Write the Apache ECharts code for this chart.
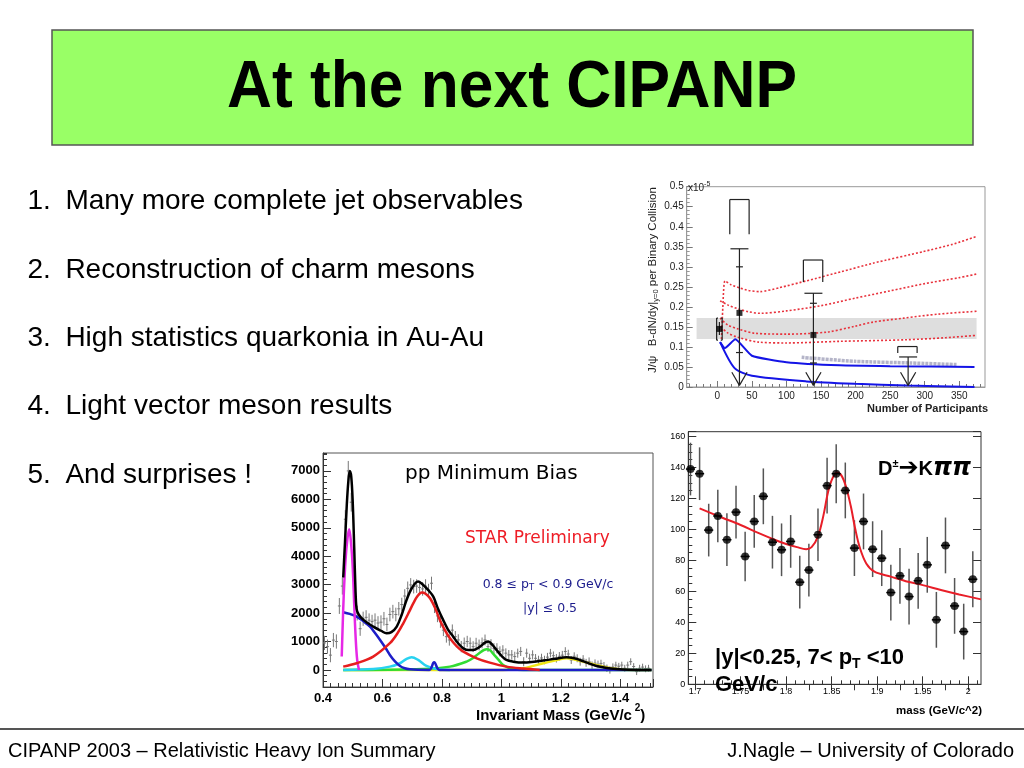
<!DOCTYPE html>
<html><head><meta charset="utf-8">
<script src="https://cdn.jsdelivr.net/npm/echarts@6/dist/echarts.min.js"></script>
<style>html,body{margin:0;padding:0;background:#fff}#c{width:1024px;height:768px}</style>
</head><body><div id="c"></div>
<script>
// ---------------- slide text ----------------
const slideTitle = 'At the next CIPANP';
const bulletNums = ['1.', '2.', '3.', '4.', '5.'];
const bulletTexts = ['Many more complete jet observables', 'Reconstruction of charm mesons',
  'High statistics quarkonia in Au-Au', 'Light vector meson results', 'And surprises !'];
const footerLeft = 'CIPANP 2003 – Relativistic Heavy Ion Summary';
const footerRight = 'J.Nagle – University of Colorado';

// ---------------- chart 1 : J/psi vs Npart ----------------
const jpsiXTicks = [0, 50, 100, 150, 200, 250, 300, 350];
const jpsiXMinor = [-40, -30, -20, -10, 10, 20, 30, 40, 60, 70, 80, 90, 110, 120, 130, 140, 160, 170, 180, 190,
  210, 220, 230, 240, 260, 270, 280, 290, 310, 320, 330, 340, 360, 370, 380];
const jpsiBand = [[-30, 0.12, 375, 0.172]];
const jpsiRedA = [[6, 0.12], [8, 0.2], [11, 0.265], [20, 0.255], [33, 0.247], [45, 0.241], [62, 0.238], [90, 0.248], [129, 0.265], [180, 0.288], [225, 0.309], [298, 0.338], [340, 0.356], [375, 0.376]];
const jpsiRedB = [[4, 0.215], [15, 0.205], [30, 0.195], [45, 0.188], [62, 0.184], [100, 0.19], [150, 0.203], [200, 0.222], [250, 0.24], [300, 0.258], [350, 0.273], [375, 0.282]];
const jpsiRedC = [[4, 0.172], [15, 0.155], [30, 0.145], [55, 0.134], [100, 0.132], [158, 0.137], [200, 0.152], [225, 0.162], [270, 0.172], [320, 0.182], [375, 0.189]];
const jpsiRedD = [[5, 0.15], [15, 0.135], [30, 0.124], [60, 0.112], [100, 0.11], [177, 0.114], [274, 0.118], [330, 0.123], [375, 0.129]];
const jpsiBlueA = [[4, 0.112], [11, 0.097], [26, 0.119], [50, 0.078], [100, 0.062], [177, 0.054], [250, 0.052], [372, 0.05]];
const jpsiBlueB = [[4, 0.112], [25, 0.047], [50, 0.028], [129, 0.014], [200, 0.008], [274, 0.004], [372, 0.0]];
const jpsiGrayDash = [[122, 0.074], [200, 0.064], [280, 0.06], [346, 0.056]];
const jpsiPoints = [[3, 0.145], [32, 0.185], [139, 0.130]];
const jpsiVBars = [[3, 0.13, 0.162], [32, 0.004, 0.345], [139, 0.004, 0.234], [276, 0.004, 0.075]];
const jpsiCaps = [[32, 0.345, 13], [32, 0.30, 5], [32, 0.086, 5], [139, 0.234, 13], [139, 0.209, 5], [139, 0.06, 5], [276, 0.075, 13]];
const jpsiArrows = [[32, 0.004, 0.037, 11], [139, 0.004, 0.037, 11], [276, 0.004, 0.037, 11]];
const jpsiBrackets = [[32, 0.468, 0.381, 14], [138.5, 0.317, 0.262, 14], [275, 0.101, 0.085, 14]];
const jpsiSideBrackets = [[3, 0.117, 0.172, 4, 2]];

// ---------------- chart 2 : pp minimum bias invariant mass ----------------
const ppYTicks = [0, 1000, 2000, 3000, 4000, 5000, 6000, 7000];
const ppPoints = [[0.405,950,250],[0.415,820,250],[0.425,520,250],[0.435,1050,250],[0.445,1000,250],[0.455,2250,280],[0.465,2950,300],[0.475,5300,320],[0.485,7000,350],[0.495,5900,330],[0.505,3400,300],[0.515,2000,260],[0.525,1450,250],[0.535,1800,250],[0.545,1850,250],[0.555,1750,240],[0.565,1700,240],[0.575,1750,240],[0.585,1650,240],[0.595,1680,240],[0.605,1800,240],[0.615,1600,240],[0.625,1950,240],[0.635,2050,240],[0.645,1950,240],[0.655,2150,240],[0.665,2300,240],[0.675,2600,240],[0.685,2870,240],[0.695,2990,240],[0.705,2930,240],[0.715,2950,240],[0.725,2900,240],[0.735,2850,240],[0.745,2950,240],[0.755,2800,230],[0.765,3050,230],[0.775,2230,230],[0.785,1900,220],[0.795,1700,220],[0.805,1400,210],[0.815,1170,210],[0.825,1055,200],[0.835,1400,200],[0.845,1170,200],[0.855,1055,200],[0.865,820,200],[0.875,940,200],[0.885,1000,200],[0.895,940,200],[0.905,820,190],[0.915,940,190],[0.925,880,190],[0.935,950,190],[0.945,1055,190],[0.955,820,190],[0.965,900,180],[0.975,760,180],[0.985,760,180],[0.995,650,180],[1.005,700,170],[1.015,590,170],[1.025,530,170],[1.035,530,170],[1.045,470,170],[1.055,590,160],[1.065,650,160],[1.075,290,160],[1.085,590,160],[1.095,410,160],[1.105,530,160],[1.115,410,150],[1.125,350,150],[1.135,420,150],[1.145,350,150],[1.155,450,150],[1.165,590,150],[1.175,500,150],[1.185,410,150],[1.195,480,150],[1.205,520,150],[1.215,650,150],[1.225,560,150],[1.235,350,140],[1.245,480,140],[1.255,410,140],[1.265,290,140],[1.275,380,140],[1.285,250,140],[1.295,300,140],[1.305,170,130],[1.315,240,130],[1.325,200,130],[1.335,230,130],[1.345,150,130],[1.355,60,130],[1.365,0,130],[1.375,100,130],[1.385,170,120],[1.395,130,120],[1.405,170,120],[1.415,60,120],[1.425,170,120],[1.435,290,120],[1.445,120,120],[1.455,-60,120],[1.465,60,120],[1.475,100,120],[1.485,40,120],[1.495,60,120]];
const ppTotal = [[0.468,3250],[0.474,4500],[0.48,5800],[0.485,6600],[0.49,7000],[0.495,6800],[0.5,5900],[0.505,4300],[0.509,2900],[0.513,2150],[0.52,1950],[0.536,1760],[0.569,1525],[0.595,1380],[0.614,1290],[0.63,1330],[0.648,1525],[0.665,1950],[0.681,2460],[0.70,2900],[0.72,3110],[0.737,2990],[0.755,2800],[0.771,2580],[0.785,2200],[0.804,1760],[0.82,1430],[0.838,1170],[0.855,930],[0.872,760],[0.89,700],[0.905,700],[0.928,820],[0.945,960],[0.956,1000],[0.97,880],[0.984,700],[1.0,500],[1.017,350],[1.04,290],[1.073,260],[1.11,290],[1.141,330],[1.18,390],[1.219,445],[1.245,410],[1.264,350],[1.29,250],[1.32,140],[1.35,80],[1.387,35],[1.43,10],[1.505,0]];
const ppRho = [[0.468,117],[0.513,235],[0.569,470],[0.625,940],[0.65,1280],[0.67,1640],[0.69,2050],[0.704,2350],[0.718,2600],[0.732,2720],[0.745,2680],[0.76,2520],[0.777,2180],[0.793,1760],[0.81,1400],[0.827,1115],[0.85,830],[0.872,645],[0.917,410],[0.961,258],[1.017,117],[1.073,47],[1.129,0]];
const ppK0 = [[0.463,470],[0.466,1500],[0.470,2700],[0.476,3900],[0.482,4600],[0.488,4950],[0.494,4500],[0.5,3600],[0.505,2300],[0.51,1100],[0.515,350],[0.521,0]];
const ppBg = [[0.468,2030],[0.49,1970],[0.513,1877],[0.535,1720],[0.558,1525],[0.575,1300],[0.592,1056],[0.61,780],[0.625,528],[0.642,300],[0.659,141],[0.675,60],[0.692,23],[0.72,5],[0.758,0],[0.765,90],[0.771,250],[0.775,270],[0.78,170],[0.786,40],[0.792,0],[1.505,0]];
const ppOmega = [[0.468,0],[0.569,35],[0.625,117],[0.659,235],[0.68,380],[0.698,446],[0.72,352],[0.748,141],[0.782,35],[0.827,0]];
const ppF0 = [[0.468,0],[0.737,35],[0.827,117],[0.883,293],[0.905,420],[0.922,563],[0.95,727],[0.962,690],[0.973,563],[0.99,360],[1.006,176],[1.04,23],[1.073,0],[1.505,0]];
const ppF2 = [[0.468,0],[1.006,0],[1.073,59],[1.141,235],[1.19,360],[1.219,410],[1.245,370],[1.275,293],[1.342,117],[1.398,23],[1.432,0],[1.505,0]];

// ---------------- chart 3 : D -> K pi pi ----------------
const dXTicks = [1.7, 1.75, 1.8, 1.85, 1.9, 1.95, 2];
const dXMinor = [1.70,1.71,1.72,1.73,1.74,1.75,1.76,1.77,1.78,1.79,1.80,1.81,1.82,1.83,1.84,1.85,1.86,1.87,1.88,1.89,1.90,1.91,1.92,1.93,1.94,1.95,1.96,1.97,1.98,1.99,2.00,2.01];
const dXTop = [1.7,1.725,1.75,1.775,1.8,1.825,1.85,1.875,1.9,1.925,1.95,1.975,2.0];
const dPoints = [[1.695,138.9,17],[1.705,135.9,17],[1.715,99.5,17],[1.725,108.6,17],[1.735,93.3,17],[1.745,111.1,17],[1.755,82.5,16],[1.765,105.1,17],[1.775,121.3,18],[1.785,91.7,17],[1.795,86.8,17],[1.805,92.2,17],[1.815,65.9,17],[1.825,73.7,17],[1.835,96.5,17],[1.845,128.2,18],[1.855,135.9,19],[1.865,125.1,18],[1.875,87.9,18],[1.885,105.1,18],[1.895,87.2,18],[1.905,81.4,18],[1.915,59.2,18],[1.925,70.0,18],[1.935,56.6,18],[1.945,66.8,18],[1.955,77.1,18],[1.965,41.6,18],[1.975,89.6,18],[1.985,50.6,18],[1.995,34.0,18],[2.005,67.8,18]];
const dFit = [[1.705,113.5],[1.73,107.5],[1.75,102.8],[1.77,97.5],[1.788,93.1],[1.80,90.5],[1.812,88.5],[1.822,87.2],[1.828,88.5],[1.835,95.5],[1.841,109],[1.846,124],[1.851,133],[1.856,136.6],[1.861,134.5],[1.866,127],[1.871,115],[1.876,100],[1.881,88],[1.888,78],[1.897,72.7],[1.915,69.5],[1.934,66.2],[1.95,64],[1.97,60.9],[1.99,58],[2.014,54.8]];

// ---------------- helpers ----------------
const SANS = '"Liberation Sans", Arial, sans-serif';
const DJV = '"DejaVu Sans", sans-serif';
const mctx = document.createElement('canvas').getContext('2d');
function tw(t, f) { mctx.font = f; return mctx.measureText(t).width; }
function T(x, y, text, font, fill, align, extra) {
  return Object.assign({ type: 'text', x: x, y: y, silent: true, z: 100,
    style: { text: text, font: font, fill: fill || '#000', align: align || 'left', verticalAlign: 'middle',
      textAlign: align || 'left', textVerticalAlign: 'middle' } }, extra || {});
}
function seq(x, y, parts, align, fill) {
  const ws = parts.map(p => tw(p.t, p.font));
  const total = ws.reduce((a, b) => a + b, 0);
  let cur = align === 'right' ? x - total : align === 'center' ? x - total / 2 : x;
  return parts.map((p, i) => { const e = T(cur, y + (p.dy || 0), p.t, p.font, p.fill || fill); cur += ws[i]; return e; });
}
function seqUp(x, y, parts, fill) {
  let cur = y;
  return parts.map(p => { const w = tw(p.t, p.font); const e = T(x + (p.dy || 0), cur, p.t, p.font, fill, 'left', { rotation: Math.PI / 2 }); cur -= w; return e; });
}
function segSeries(xi, yi, segs, color, width, z) {
  return { type: 'custom', xAxisIndex: xi, yAxisIndex: yi, z: z, silent: true, clip: false,
    encode: { x: [0, 2], y: [1, 3] }, data: segs,
    renderItem: (p, api) => {
      const a = api.coord([api.value(0), api.value(1)]);
      const b = api.coord([api.value(2), api.value(3)]);
      return { type: 'line', shape: { x1: a[0], y1: a[1], x2: b[0], y2: b[1] }, style: { stroke: color, lineWidth: width } };
    } };
}
function lineS(xi, yi, data, color, width, z, type, smooth) {
  return { type: 'line', xAxisIndex: xi, yAxisIndex: yi, data: data, showSymbol: false, symbol: 'none', silent: true, z: z,
    smooth: smooth === undefined ? 0.35 : smooth, lineStyle: { color: color, width: width, type: type || 'solid' } };
}

// segments for chart 1
const jSegs = [];
jpsiVBars.forEach(b => jSegs.push([b[0], b[1], b[0], b[2]]));
jpsiCaps.forEach(c => jSegs.push([c[0] - c[2], c[1], c[0] + c[2], c[1]]));
jpsiArrows.forEach(a => { jSegs.push([a[0] - a[3], a[2], a[0], a[1]]); jSegs.push([a[0], a[1], a[0] + a[3], a[2]]); });
jpsiBrackets.forEach(b => { jSegs.push([b[0] - b[3], b[1], b[0] + b[3], b[1]]); jSegs.push([b[0] - b[3], b[1], b[0] - b[3], b[2]]); jSegs.push([b[0] + b[3], b[1], b[0] + b[3], b[2]]); });
jpsiSideBrackets.forEach(b => {
  const l = b[0] - b[3], r = b[0] + b[3];
  jSegs.push([l, b[1], l, b[2]], [l, b[1], l + b[4], b[1]], [l, b[2], l + b[4], b[2]]);
  jSegs.push([r, b[1], r, b[2]], [r, b[1], r - b[4], b[1]], [r, b[2], r - b[4], b[2]]);
});
// segments for chart 2
const ppV = ppPoints.map(p => [p[0], p[1] - p[2], p[0], p[1] + p[2]]);
const ppH = ppPoints.map(p => [p[0] - 0.005, p[1], p[0] + 0.005, p[1]]);
// segments for chart 3
const dV = dPoints.map(p => [p[0], p[1] - p[2], p[0], p[1] + p[2]]);
const dH = dPoints.map(p => [p[0] - 0.005, p[1], p[0] + 0.005, p[1]]);

const noLine = { show: false };
const plain = v => String(v);
const axisBase = (extra) => Object.assign({ type: 'value', splitLine: { show: false }, axisLine: { show: true, onZero: false } }, extra);

// ---------------- graphic (slide) ----------------
const G = [];
G.push({ type: 'rect', shape: { x: 52, y: 30, width: 921, height: 115 }, style: { fill: '#99ff66', stroke: '#555', lineWidth: 1.5 }, z: 1, silent: true });
G.push(T(512, 89, slideTitle, 'bold 67px ' + SANS, '#000', 'center', { scaleX: 0.93 }));
bulletTexts.forEach((t, i) => {
  const y = 201.7 + i * 68.3;
  G.push(T(27.5, y, bulletNums[i], '28px ' + SANS, '#000'));
  G.push(T(65.4, y, t, '28px ' + SANS, '#000'));
});
G.push({ type: 'line', shape: { x1: 0, y1: 729, x2: 1024, y2: 729 }, style: { stroke: '#555', lineWidth: 2 }, silent: true });
G.push(T(8, 751, footerLeft, '20px ' + SANS, '#000'));
G.push(T(1014, 751, footerRight, '20px ' + SANS, '#000', 'right'));
// chart 1 labels
G.push(...seq(688, 188, [{ t: 'x10', font: '10px ' + SANS }, { t: '-5', font: '7px ' + SANS, dy: -4 }], 'left', '#222'));
G.push(...seqUp(653, 373, [{ t: 'J/ψ   B-dN/dy|', font: '11.5px ' + SANS }, { t: 'y=0', font: '7.5px ' + SANS, dy: 3 }, { t: ' per Binary Collision', font: '11.5px ' + SANS }], '#222'));
G.push(T(988, 409, 'Number of Participants', 'bold 11px ' + SANS, '#222', 'right'));
// chart 2 labels
G.push(T(405, 474, 'pp Minimum Bias', '20px ' + DJV, '#000'));
G.push(T(465, 539, 'STAR Preliminary', '17px ' + DJV, '#ee1c25'));
G.push(...seq(548, 585, [{ t: '0.8 ≤ p', font: '12.5px ' + DJV }, { t: 'T', font: '8.5px ' + DJV, dy: 3 }, { t: ' < 0.9 GeV/c', font: '12.5px ' + DJV }], 'center', '#1c1c8c'));
G.push(T(550, 609, '|y| ≤ 0.5', '12.5px ' + DJV, '#1c1c8c', 'center'));
G.push(...seq(476, 716, [{ t: 'Invariant Mass (GeV/c', font: 'bold 15px ' + SANS }, { t: ' 2', font: 'bold 10px ' + SANS, dy: -8 }, { t: ')', font: 'bold 15px ' + SANS }], 'left', '#000'));
// chart 3 labels
G.push(...seq(878, 469, [{ t: 'D', font: 'bold 20px ' + SANS }, { t: '±', font: 'bold 11px ' + SANS, dy: -5 }, { t: '➔', font: 'bold 24px ' + DJV }, { t: 'K', font: 'bold 20px ' + SANS }, { t: 'ππ', font: 'italic bold 24px ' + DJV }], 'left', '#000'));
G.push(...seq(715, 658, [{ t: '|y|<0.25, 7< p', font: 'bold 22px ' + SANS }, { t: 'T', font: 'bold 14px ' + SANS, dy: 6 }, { t: ' <10', font: 'bold 22px ' + SANS }], 'left', '#000'));
G.push(T(715, 685, 'GeV/c', 'bold 22px ' + SANS, '#000'));
G.push(T(982, 711, 'mass (GeV/c^2)', 'bold 11.5px ' + SANS, '#000', 'right'));

// ---------------- option ----------------
const option = {
  animation: false,
  backgroundColor: '#ffffff',
  grid: [
    { left: 686.7, top: 186.7, width: 298.3, height: 200.3, show: true, borderColor: '#999', borderWidth: 1, backgroundColor: 'transparent' },
    { left: 323, top: 453, width: 330, height: 234, show: true, borderColor: '#555', borderWidth: 1, backgroundColor: 'transparent' },
    { left: 688.3, top: 431.7, width: 292.7, height: 252.6, show: true, borderColor: '#333', borderWidth: 1, backgroundColor: 'transparent' }
  ],
  xAxis: [
    axisBase({ gridIndex: 0, min: -44.3, max: 387.2, position: 'bottom', axisLine: { show: true, onZero: false, lineStyle: { color: '#999' } },
      axisTick: { show: true, inside: true, length: 6, customValues: jpsiXTicks, lineStyle: { color: '#777' } },
      axisLabel: { customValues: jpsiXTicks, fontSize: 10, fontFamily: SANS, color: '#222', margin: 4 } }),
    axisBase({ gridIndex: 0, min: -44.3, max: 387.2, position: 'bottom', axisLine: noLine,
      axisTick: { show: true, inside: true, length: 3, customValues: jpsiXMinor, lineStyle: { color: '#777' } }, axisLabel: { show: false } }),
    axisBase({ gridIndex: 1, min: 0.4, max: 1.51, interval: 0.2, position: 'bottom', axisLine: { show: true, onZero: false, lineStyle: { color: '#333' } },
      axisTick: { show: true, inside: true, length: 8, lineStyle: { color: '#333' } },
      minorTick: { show: true, splitNumber: 8, length: 4, lineStyle: { color: '#333' } },
      axisLabel: { fontSize: 13, fontWeight: 'bold', fontFamily: SANS, color: '#000', margin: 5, showMaxLabel: false, formatter: plain } }),
    axisBase({ gridIndex: 2, min: 1.6926, max: 2.014, position: 'bottom', axisLine: { show: true, onZero: false, lineStyle: { color: '#333' } },
      axisTick: { show: true, inside: true, length: 8, customValues: dXTicks, lineStyle: { color: '#333' } },
      axisLabel: { customValues: dXTicks, fontSize: 9, fontFamily: SANS, color: '#000', margin: 3 } }),
    axisBase({ gridIndex: 2, min: 1.6926, max: 2.014, position: 'bottom', axisLine: noLine,
      axisTick: { show: true, inside: true, length: 4, customValues: dXMinor, lineStyle: { color: '#333' } }, axisLabel: { show: false } }),
    axisBase({ gridIndex: 2, min: 1.6926, max: 2.014, position: 'top', axisLine: noLine,
      axisTick: { show: true, inside: true, length: 6, customValues: dXTop, lineStyle: { color: '#333' } }, axisLabel: { show: false } })
  ],
  yAxis: [
    axisBase({ gridIndex: 0, min: 0, max: 0.5, interval: 0.05, position: 'left', axisLine: { show: true, onZero: false, lineStyle: { color: '#999' } },
      axisTick: { show: true, inside: true, length: 6, lineStyle: { color: '#777' } },
      minorTick: { show: true, splitNumber: 5, length: 3, lineStyle: { color: '#999' } },
      axisLabel: { fontSize: 10, fontFamily: SANS, color: '#222', margin: 3 } }),
    axisBase({ gridIndex: 1, min: -600, max: 7630, position: 'left', axisLine: { show: true, onZero: false, lineStyle: { color: '#333' } },
      axisTick: { show: true, inside: true, length: 8, customValues: ppYTicks, lineStyle: { color: '#333' } },
      axisLabel: { customValues: ppYTicks, fontSize: 13, fontWeight: 'bold', fontFamily: SANS, color: '#000', margin: 3, formatter: plain } }),
    axisBase({ gridIndex: 1, min: -600, max: 7630, interval: 200, position: 'left', axisLine: noLine,
      axisTick: { show: true, inside: true, length: 4, lineStyle: { color: '#333' } }, axisLabel: { show: false } }),
    axisBase({ gridIndex: 2, min: 0, max: 163, interval: 20, position: 'left', axisLine: { show: true, onZero: false, lineStyle: { color: '#333' } },
      axisTick: { show: true, inside: true, length: 8, lineStyle: { color: '#333' } },
      minorTick: { show: true, splitNumber: 4, length: 4, lineStyle: { color: '#333' } },
      axisLabel: { fontSize: 9, fontFamily: SANS, color: '#000', margin: 3 } }),
    axisBase({ gridIndex: 2, min: 0, max: 163, interval: 20, position: 'right', axisLine: noLine,
      axisTick: { show: true, inside: true, length: 8, lineStyle: { color: '#333' } }, axisLabel: { show: false } })
  ],
  series: [
    // chart 1
    { type: 'custom', xAxisIndex: 0, yAxisIndex: 0, z: 1, silent: true, data: jpsiBand, encode: { x: [0, 2], y: [1, 3] },
      renderItem: (p, api) => { const a = api.coord([api.value(0), api.value(3)]); const b = api.coord([api.value(2), api.value(1)]);
        return { type: 'rect', shape: { x: a[0], y: a[1], width: b[0] - a[0], height: b[1] - a[1] }, style: { fill: '#dedede' } }; } },
    lineS(0, 0, jpsiGrayDash, '#b4b4c8', 3.5, 2, [3, 1], 0.2),
    lineS(0, 0, jpsiRedA, '#e8323c', 1.6, 3, [2, 2], 0.2),
    lineS(0, 0, jpsiRedB, '#e8323c', 1.6, 3, [2, 2], 0.3),
    lineS(0, 0, jpsiRedC, '#e8323c', 1.6, 3, [2, 2], 0.3),
    lineS(0, 0, jpsiRedD, '#e8323c', 1.6, 3, [2, 2], 0.3),
    lineS(0, 0, jpsiBlueA, '#1414e6', 2, 3, 'solid', 0.15),
    lineS(0, 0, jpsiBlueB, '#1414e6', 2, 3, 'solid', 0.25),
    segSeries(0, 0, jSegs, '#222', 1.2, 4),
    { type: 'scatter', xAxisIndex: 0, yAxisIndex: 0, z: 5, silent: true, data: jpsiPoints, symbol: 'rect', symbolSize: 6, itemStyle: { color: '#000' } },
    // chart 2
    segSeries(2, 1, ppV, '#777', 1, 2),
    segSeries(2, 1, ppH, '#777', 1, 2),
    lineS(2, 1, ppF2, '#f0e614', 2.5, 3),
    lineS(2, 1, ppF0, '#32dc32', 2.5, 3),
    lineS(2, 1, ppOmega, '#28d2f0', 2.5, 3),
    lineS(2, 1, ppBg, '#1e1ec8', 2.5, 4),
    lineS(2, 1, ppK0, '#e628e6', 2.5, 4),
    lineS(2, 1, ppRho, '#e61e1e', 2.5, 4),
    lineS(2, 1, ppTotal, '#000', 2.5, 5),
    // chart 3
    segSeries(3, 3, dV, '#555', 1.5, 2),
    lineS(3, 3, dFit, '#e81e28', 2, 3),
    segSeries(3, 3, dH, '#000', 1.5, 4),
    { type: 'scatter', xAxisIndex: 3, yAxisIndex: 3, z: 5, silent: true, data: dPoints.map(p => [p[0], p[1]]), symbol: 'circle', symbolSize: 8, itemStyle: { color: '#000' } }
  ],
  graphic: { elements: G }
};
const chart = echarts.init(document.getElementById('c'), null, { renderer: 'canvas' });
chart.setOption(option);
</script></body></html>
